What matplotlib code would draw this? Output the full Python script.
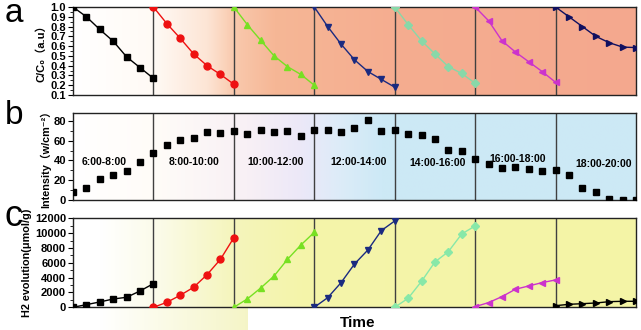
import numpy as np
import matplotlib
matplotlib.use("Agg")
import matplotlib.pyplot as plt
from matplotlib.colors import to_rgb
from matplotlib.ticker import MultipleLocator

plt.rcParams['font.family'] = ['Liberation Sans', 'Noto Sans CJK SC', 'DejaVu Sans']

# ---------------- data ----------------
periods = ["6:00-8:00", "8:00-10:00", "10:00-12:00", "12:00-14:00",
           "14:00-16:00", "16:00-18:00", "18:00-20:00"]

# panel a: C/C0 for each period (7 samples each)
cc0_1 = [1.00, 0.90, 0.77, 0.65, 0.49, 0.38, 0.27]
cc0_2 = [1.00, 0.83, 0.68, 0.52, 0.40, 0.31, 0.21]
cc0_3 = [1.00, 0.82, 0.66, 0.50, 0.39, 0.31, 0.20]
cc0_4 = [1.00, 0.80, 0.62, 0.46, 0.34, 0.26, 0.18]
cc0_5 = [1.00, 0.82, 0.655, 0.52, 0.39, 0.32, 0.22]
cc0_6 = [1.00, 0.86, 0.655, 0.54, 0.44, 0.34, 0.23]
cc0_7 = [1.00, 0.90, 0.80, 0.70, 0.635, 0.59, 0.585]
cc0_all = [cc0_1, cc0_2, cc0_3, cc0_4, cc0_5, cc0_6, cc0_7]

# panel b: light intensity (w/cm^-2)
intensity = [8, 12, 21, 25, 29, 38, 48, 56, 61, 63, 69, 68, 70, 67, 71, 69,
             70, 65, 71, 71, 69, 73, 81, 70, 70.5, 67, 66, 62, 51, 49.5, 42,
             36.5, 32, 33, 31, 29.5, 30, 25, 12.5, 8, 1, 0.5, 0.5]

# panel c: H2 evolution (umol/g)
h2_1 = [0, 360, 720, 1120, 1350, 2200, 3190]
h2_2 = [0, 670, 1620, 2700, 4400, 6470, 9390]
h2_3 = [0, 1120, 2600, 4220, 6470, 8400, 10110]
h2_4 = [0, 1300, 3330, 5840, 7730, 10340, 11640]
h2_5 = [0, 1210, 3500, 6110, 7500, 9890, 10970]
h2_6 = [90, 630, 1440, 2430, 2880, 3330, 3690]
h2_7 = [220, 400, 490, 580, 760, 810, 810]
h2_all = [h2_1, h2_2, h2_3, h2_4, h2_5, h2_6, h2_7]

# ---------------- styles ----------------
markers = ['s', 'o', '^', 'v', 'D', '<', '>']
colors_a = ['#000000', '#ee1111', '#77e022', '#1a2a80', '#88d8a8', '#cc33cc', '#101060']
colors_c = ['#000000', '#ee1111', '#77e022', '#1a2a80', '#88e8a8', '#cc33cc', '#000000']
msizes = [4.5, 5, 5, 5, 4, 5, 5]

label_pos = [(2.3, 38.5), (9.0, 38.5), (15.1, 38.5), (21.3, 38.5),
             (27.2, 37.5), (33.2, 41.5), (39.6, 36.5)]

grad_a = ([0, 6, 10, 12, 15, 24, 42],
          ['#ffffff', '#fffaf5', '#fde5d5', '#f9c9ad', '#f6b796', '#f5ad90', '#f4a88e'])
grad_b = ([0, 6, 13, 17, 20, 23, 42],
          ['#ffffff', '#fffcf8', '#f8f0f5', '#ece8f8', '#dcecf8', '#cde9f6', '#cce9f5'])
grad_c = ([0, 2, 6.5, 12, 17, 42],
          ['#ffffff', '#ffffff', '#fbfbe8', '#f5f5bc', '#f4f4aa', '#f5f5a6'])


def gradient_img(stops, n=400):
    xs = np.linspace(0, 42, n)
    pos, cols = stops
    rgb = np.array([to_rgb(c) for c in cols])
    img = np.stack([np.interp(xs, pos, rgb[:, k]) for k in range(3)], axis=-1)
    return img[None, :, :]


W, H = 641, 330
fig = plt.figure(figsize=(W / 100, H / 100), dpi=100)
L, R = 73, 636


def add_ax(top, bottom):
    return fig.add_axes([L / W, 1 - bottom / H, (R - L) / W, (bottom - top) / H])


ax_a = add_ax(7, 95)
ax_b = add_ax(112.7, 200)
ax_c = add_ax(218.3, 307.3)

ylims = {ax_a: (0.1, 1.0), ax_b: (0, 88.4), ax_c: (0, 12000)}
grads = {ax_a: grad_a, ax_b: grad_b, ax_c: grad_c}

tickfont = dict(fontsize=8, fontweight='bold')
for ax in (ax_a, ax_b, ax_c):
    ax.set_xlim(0, 42)
    ax.set_ylim(*ylims[ax])
    ax.imshow(gradient_img(grads[ax]), extent=[0, 42, ylims[ax][0], ylims[ax][1]],
              aspect='auto', zorder=0, interpolation='bilinear')
    for xv in range(6, 42, 6):
        ax.axvline(xv, color='#404040', lw=1, zorder=1)
    ax.set_xticks([])
    for s in ax.spines.values():
        s.set_color('#222222')
        s.set_linewidth(1)
    ax.tick_params(axis='y', direction='out', length=3.5, width=0.8, pad=1.5)
    ax.tick_params(axis='y', which='minor', direction='out', length=2, width=0.6)

# panel a
for i, (vals, m, c, ms) in enumerate(zip(cc0_all, markers, colors_a, msizes)):
    xs = np.arange(7) + 6 * i
    ax_a.plot(xs, vals, color=c, marker=m, ms=ms, lw=1, zorder=3)
ax_a.yaxis.set_minor_locator(MultipleLocator(0.05))
ax_a.set_yticks(np.round(np.arange(0.1, 1.01, 0.1), 1))
ax_a.set_yticklabels([f"{v:.1f}" for v in np.arange(0.1, 1.01, 0.1)], **tickfont)
ax_a.set_ylabel("C/C₀（a.u）", fontsize=8, fontweight='bold', labelpad=3)

# panel b
ax_b.plot(np.arange(len(intensity)), intensity, 's', color='black', ms=4.5, zorder=3)
ax_b.set_yticks([0, 20, 40, 60, 80])
ax_b.set_yticklabels(['0', '20', '40', '60', '80'], **tickfont)
ax_b.yaxis.set_minor_locator(MultipleLocator(10))
ax_b.set_ylabel("Intensity（w/cm⁻²）", fontsize=7.8, fontweight='bold', labelpad=2)
for txt, (x, y) in zip(periods, label_pos):
    ax_b.text(x, y, txt, ha='center', va='center', fontsize=7.5, fontweight='bold', zorder=4)

# panel c
for i, (vals, m, c, ms) in enumerate(zip(h2_all, markers, colors_c, msizes)):
    xs = np.arange(7) + 6 * i
    ax_c.plot(xs, vals, color=c, marker=m, ms=ms, lw=1, zorder=3)
ax_c.set_yticks(np.arange(0, 12001, 2000))
ax_c.set_yticklabels([str(v) for v in range(0, 12001, 2000)], **tickfont)
ax_c.yaxis.set_minor_locator(MultipleLocator(1000))
ax_c.set_ylabel("H2 evolution(μmol/g)", fontsize=7.8, fontweight='bold', labelpad=2)
ax_c.set_xlabel("Time", fontsize=11, fontweight='bold', labelpad=2)
ax_c.xaxis.set_label_coords((358 - L) / (R - L), -0.1)

# faint yellow band below panel c
band = fig.add_axes([100 / W, 0, 148 / W, (330 - 308) / H], zorder=-1)
bx = np.linspace(0, 1, 200)
band_rgb = np.stack([np.interp(bx, [0, 1], [1.0, 0.96]),
                     np.interp(bx, [0, 1], [1.0, 0.96]),
                     np.interp(bx, [0, 1], [1.0, 0.78])], axis=-1)[None]
band.imshow(band_rgb, aspect='auto', extent=[0, 1, 0, 1])
band.set_axis_off()

# panel letters
fig.text(14 / W, 1 - 14 / H, 'a', fontsize=24, ha='center', va='center')
fig.text(14 / W, 1 - 116 / H, 'b', fontsize=24, ha='center', va='center')
fig.text(14 / W, 1 - 216 / H, 'c', fontsize=26, ha='center', va='center')

fig.savefig('out.png', dpi=100)
